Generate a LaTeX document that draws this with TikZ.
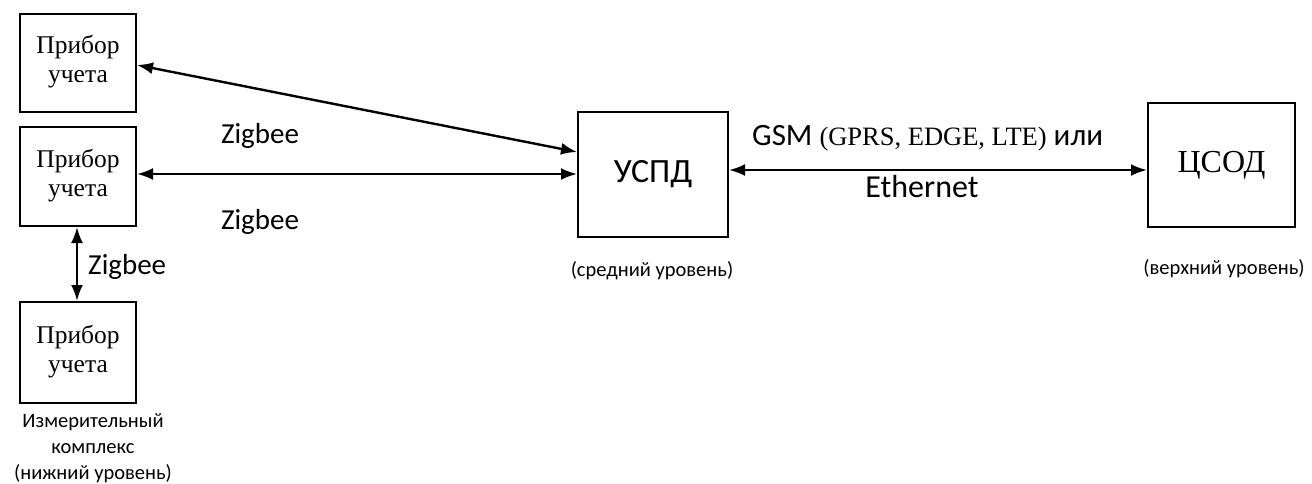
\documentclass[tikz,border=0pt]{standalone}
\usepackage{fontspec}
\setmainfont{Liberation Serif}
\newfontfamily\carl{Carlito}
\usetikzlibrary{arrows.meta}
\begin{document}
\begin{tikzpicture}[x=1pt,y=-1pt,
  box/.style={draw,line width=2pt,inner sep=0pt,anchor=north west},
  dev/.style={align=center,font=\fontsize{25.5}{29}\selectfont},
  conn/.style={line width=2.4pt,{Latex[length=16pt,width=12pt]}-{Latex[length=16pt,width=12pt]}},
  lbl/.style={inner sep=0pt,font=\carl\fontsize{29}{32}\selectfont},
  lvl/.style={align=center,font=\carl\fontsize{20.5}{26}\selectfont}]
\useasboundingbox (0,0) rectangle (1312,483);
\node[box,minimum width=116pt,minimum height=98pt] (p1) at (19,13) {};
\node[dev] (t1) at ([yshift=1pt]p1.center) {Прибор\\учета};
\node[box,minimum width=116pt,minimum height=99pt] (p2) at (19,126) {};
\node[dev] (t2) at ([yshift=1pt]p2.center) {Прибор\\учета};
\node[box,minimum width=116pt,minimum height=101pt] (p3) at (19,301) {};
\node[dev] (t3) at ([yshift=1pt]p3.center) {Прибор\\учета};
\node[box,minimum width=150pt,minimum height=125pt] (u) at (577,111) {};
\node[font=\carl\fontsize{34}{40}\selectfont] (tu) at (u.center) {УСПД};
\node[box,minimum width=147pt,minimum height=124pt] (c) at (1147,102) {};
\node[font=\fontsize{32}{36}\selectfont] (tc) at (c.center) {ЦСОД};
\coordinate (a1) at (136,65);
\coordinate (b1) at (577,152);
\coordinate (h2) at (0,174);
\coordinate (g1) at (0,170);
\coordinate (v) at (77,0);
\draw[conn] (p1.east |- a1) -- (u.west |- b1);
\draw[conn] (p2.east |- h2) -- (u.west |- h2);
\draw[conn] (u.east |- g1) -- (c.west |- g1);
\draw[conn] (p2.south -| v) -- (p3.north -| v);
\node[lbl] (z1) at (260,136) {Zigbee};
\node[lbl] (z2) at (260,222) {Zigbee};
\node[lbl,anchor=west] (z3) at (88,267) {Zigbee};
\node[inner sep=0pt,anchor=base west] (gsm) at (752,145) {\carl\fontsize{31}{36}\selectfont GSM\ {\rmfamily\fontsize{26.5}{32}\selectfont (GPRS, EDGE, LTE)}\ или};
\node[lbl,font=\carl\fontsize{32}{36}\selectfont] (eth) at (922,187) {Ethernet};
\node[lvl] (ml) at (93,448) {Измерительный\\комплекс\\(нижний уровень)};
\node[lvl] (sl) at (652,271) {(средний уровень)};
\node[lvl] (vl) at (1224,269) {(верхний уровень)};
\end{tikzpicture}
\end{document}
